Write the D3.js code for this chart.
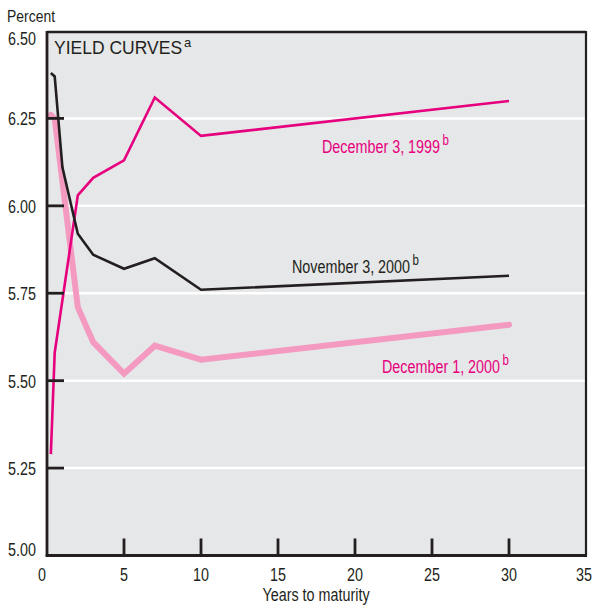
<!DOCTYPE html>
<html><head><meta charset="utf-8">
<script src="https://cdn.jsdelivr.net/npm/d3@7"></script>
<style>
body{margin:0;background:#fff;}
text{font-family:"Liberation Sans",Arial,sans-serif;}
</style></head>
<body><svg id="c" width="594" height="610"></svg>
<script>
// Data
const dec1999 = [[0.25,5.29],[0.5,5.58],[2,6.03],[3,6.08],[5,6.13],[7,6.31],[10,6.20],[30,6.30]];
const nov2000 = [[0.25,6.38],[0.5,6.37],[1,6.11],[2,5.92],[3,5.86],[5,5.82],[7,5.85],[10,5.76],[30,5.80]];
const dec2000 = [[0.25,6.26],[0.5,6.25],[2,5.71],[3,5.61],[5,5.52],[7,5.60],[10,5.56],[30,5.66]];
const xTicks = [0,5,10,15,20,25,30,35];
const yTicks = [5.00,5.25,5.50,5.75,6.00,6.25,6.50];

const svg = d3.select("#c");
const x = d3.scaleLinear().domain([0,35]).range([47,586]);
const y = d3.scaleLinear().domain([5,6.5]).range([555.5,31]);
const dark = "#231f20", magenta = "#e6007e", pink = "#f49ac1";
const NARROW = 0.82;

function ntext(px, py, size, color, anchor){
  return svg.append("text")
    .attr("transform",`translate(${px},${py}) scale(${NARROW},1)`)
    .attr("font-size",size).attr("fill",color).attr("text-anchor",anchor||"start");
}

svg.append("rect").attr("x",x(0)).attr("y",y(6.5)).attr("width",x(35)-x(0)).attr("height",y(5)-y(6.5)).attr("fill","#e6e7e8");

// gridlines
const inner = yTicks.filter(v=>v>5 && v<6.5);
svg.selectAll(".g").data(inner).enter().append("line")
  .attr("x1",x(0)).attr("x2",x(35)).attr("y1",d=>y(d)).attr("y2",d=>y(d))
  .attr("stroke","#fff").attr("stroke-width",2.5);

const line = d3.line().x(d=>x(d[0])).y(d=>y(d[1]));
svg.append("path").datum(dec2000).attr("d",line).attr("fill","none").attr("stroke",pink).attr("stroke-width",6).attr("stroke-linejoin","miter").attr("stroke-linecap","round");
svg.append("path").datum(dec1999).attr("d",line).attr("fill","none").attr("stroke",magenta).attr("stroke-width",2.6).attr("stroke-linejoin","miter");
svg.append("path").datum(nov2000).attr("d",line).attr("fill","none").attr("stroke",dark).attr("stroke-width",2.6).attr("stroke-linejoin","miter");

// frame
svg.append("line").attr("x1",x(0)).attr("x2",x(35)).attr("y1",y(6.5)+1).attr("y2",y(6.5)+1).attr("stroke",dark).attr("stroke-width",2.6);
svg.append("line").attr("x1",x(35)).attr("x2",x(35)).attr("y1",y(6.5)).attr("y2",y(5)).attr("stroke",dark).attr("stroke-width",2.2);
svg.append("line").attr("x1",x(0)).attr("x2",x(0)).attr("y1",y(6.5)).attr("y2",y(5)+1.3).attr("stroke",dark).attr("stroke-width",2.8);
svg.append("line").attr("x1",x(0)-1.3).attr("x2",x(35)+1).attr("y1",y(5)).attr("y2",y(5)).attr("stroke",dark).attr("stroke-width",2.8);

// ticks
svg.selectAll(".yt").data(inner).enter().append("line")
  .attr("x1",x(0)).attr("x2",x(0)+17).attr("y1",d=>y(d)).attr("y2",d=>y(d))
  .attr("stroke",dark).attr("stroke-width",2.8);
svg.selectAll(".xt").data(xTicks.filter(v=>v>0&&v<35)).enter().append("line")
  .attr("x1",d=>x(d)).attr("x2",d=>x(d)).attr("y1",y(5)).attr("y2",y(5)-17)
  .attr("stroke",dark).attr("stroke-width",2.8);

// tick labels
yTicks.forEach(d=>{
  const py = d===5 ? y(d) : d===6.5 ? y(d)+14 : y(d)+7;
  ntext(36, py, 17.5, dark, "end").text(d3.format(".2f")(d));
});
xTicks.forEach(d=>{
  const px = d===0 ? x(d)-5 : d===35 ? x(d)-2 : x(d);
  ntext(px, 581, 17.5, dark, "middle").text(d);
});

ntext(7, 22, 17, dark).text("Percent");
ntext(316, 601, 17.5, dark, "middle").text("Years to maturity");

const title = svg.append("text").attr("x",54).attr("y",54).attr("font-size",17.5).attr("fill",dark);
title.append("tspan").text("YIELD CURVES");
title.append("tspan").attr("dy",-7).attr("dx",2).attr("font-size",13).text("a");

function seriesLabel(px, py, txt, color){
  const t = ntext(px, py, 17.5, color);
  t.append("tspan").text(txt);
  t.append("tspan").attr("dy",-8).attr("dx",3).attr("font-size",14).text("b");
}
seriesLabel(322,153,"December 3, 1999",magenta);
seriesLabel(292,273,"November 3, 2000",dark);
seriesLabel(382,373,"December 1, 2000",magenta);
</script></body></html>
